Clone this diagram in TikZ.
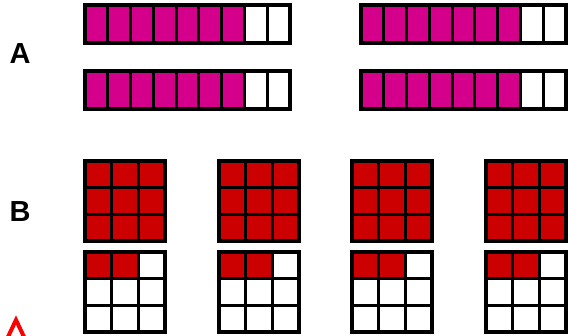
\documentclass[tikz,border=0pt]{standalone}
\usepackage{fontspec}
\setmainfont{Liberation Sans}
\usetikzlibrary{positioning}
\definecolor{barpink}{RGB}{212,0,140}
\definecolor{sqred}{RGB}{204,0,0}

\begin{document}
\begin{tikzpicture}[x=1pt, y=-1pt,
    cell/.style={draw=black, line width=3.2pt, fill=white},
    lbl/.style={font=\fontsize{29}{29}\selectfont\bfseries}]
    \useasboundingbox (0,0) rectangle (571,336);
    \clip (0,0) rectangle (571,336);

    \node[lbl] (labA) at (20,54) {A};
    \node[lbl] (labB) at (20,212) {B};

    \foreach \bx in {85,361}
        \foreach \by in {5,71}
            \foreach \i in {0,...,8} {
                \ifnum\i<7 \def\fc{barpink}\else\def\fc{white}\fi
                \draw[cell, fill=\fc] ({\bx+\i*205/9},\by) rectangle ++(205/9,38);
            }

    \foreach \gx in {85,219,352,486}
        \foreach \r in {0,1,2}
            \foreach \c in {0,1,2} {
                \draw[cell, fill=sqred] ({\gx+\c*80/3},{161+\r*80/3}) rectangle ++(80/3,80/3);
                \pgfmathtruncatemacro\hit{(\r==0)&&(\c<2)}
                \ifnum\hit=1 \def\fc{sqred}\else\def\fc{white}\fi
                \draw[cell, fill=\fc] ({\gx+\c*80/3},{252+\r*80/3}) rectangle ++(80/3,80/3);
            }

    \coordinate (capL) at (7,339);
    \coordinate (capT) at (16,320);
    \coordinate (capR) at (25,339);
    \draw[red, line width=4pt] (capL) -- (capT) -- (capR);
\end{tikzpicture}
\end{document}
